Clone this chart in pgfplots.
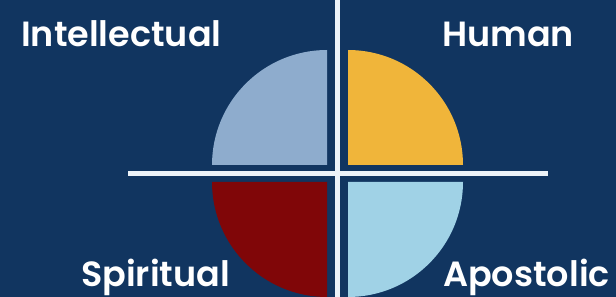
\documentclass[border=0pt]{standalone}
\usepackage{pgfplots}
\pgfplotsset{compat=1.18}
\usepackage{fontspec}
\setmainfont{Poppins}[BoldFont={Poppins SemiBold}]
\definecolor{bgnavy}{RGB}{17,53,96}
\definecolor{qsteel}{RGB}{142,172,205}
\definecolor{qyellow}{RGB}{240,181,58}
\definecolor{qred}{RGB}{128,6,8}
\definecolor{qlight}{RGB}{160,210,230}
\definecolor{linewhite}{RGB}{236,242,248}
\begin{document}
\begin{tikzpicture}
\begin{axis}[
  width=616pt, height=297pt, scale only axis,
  xmin=0, xmax=616, ymin=0, ymax=297,
  axis lines=none, clip=true,
  axis background/.style={fill=bgnavy},
]
% four equal shares of 25% each: quarter sectors, radius 115
\fill[qyellow] (axis cs:348,132) -- ++(0:115pt) arc[start angle=0,end angle=90,radius=115pt] -- cycle;
\fill[qsteel]  (axis cs:327,132) -- ++(90:115pt) arc[start angle=90,end angle=180,radius=115pt] -- cycle;
\fill[qred]    (axis cs:327,115) -- ++(180:115pt) arc[start angle=180,end angle=270,radius=115pt] -- cycle;
\fill[qlight]  (axis cs:348,115) -- ++(270:115pt) arc[start angle=270,end angle=360,radius=115pt] -- cycle;
\addplot[linewhite, line width=5pt] coordinates {(337,0) (337,297)};
\addplot[linewhite, line width=5pt] coordinates {(128,123) (548,123)};
\tikzset{lbl/.style={anchor=base west, inner sep=0pt, text=white, font=\fontsize{35}{40}\selectfont\bfseries}}
\node[lbl] at (axis cs:21,250) {Intellectual};
\node[lbl] at (axis cs:442,250) {Human};
\node[lbl] at (axis cs:81,10) {Spiritual};
\node[lbl] at (axis cs:443,10) {Apostolic};
\end{axis}
\end{tikzpicture}
\end{document}
